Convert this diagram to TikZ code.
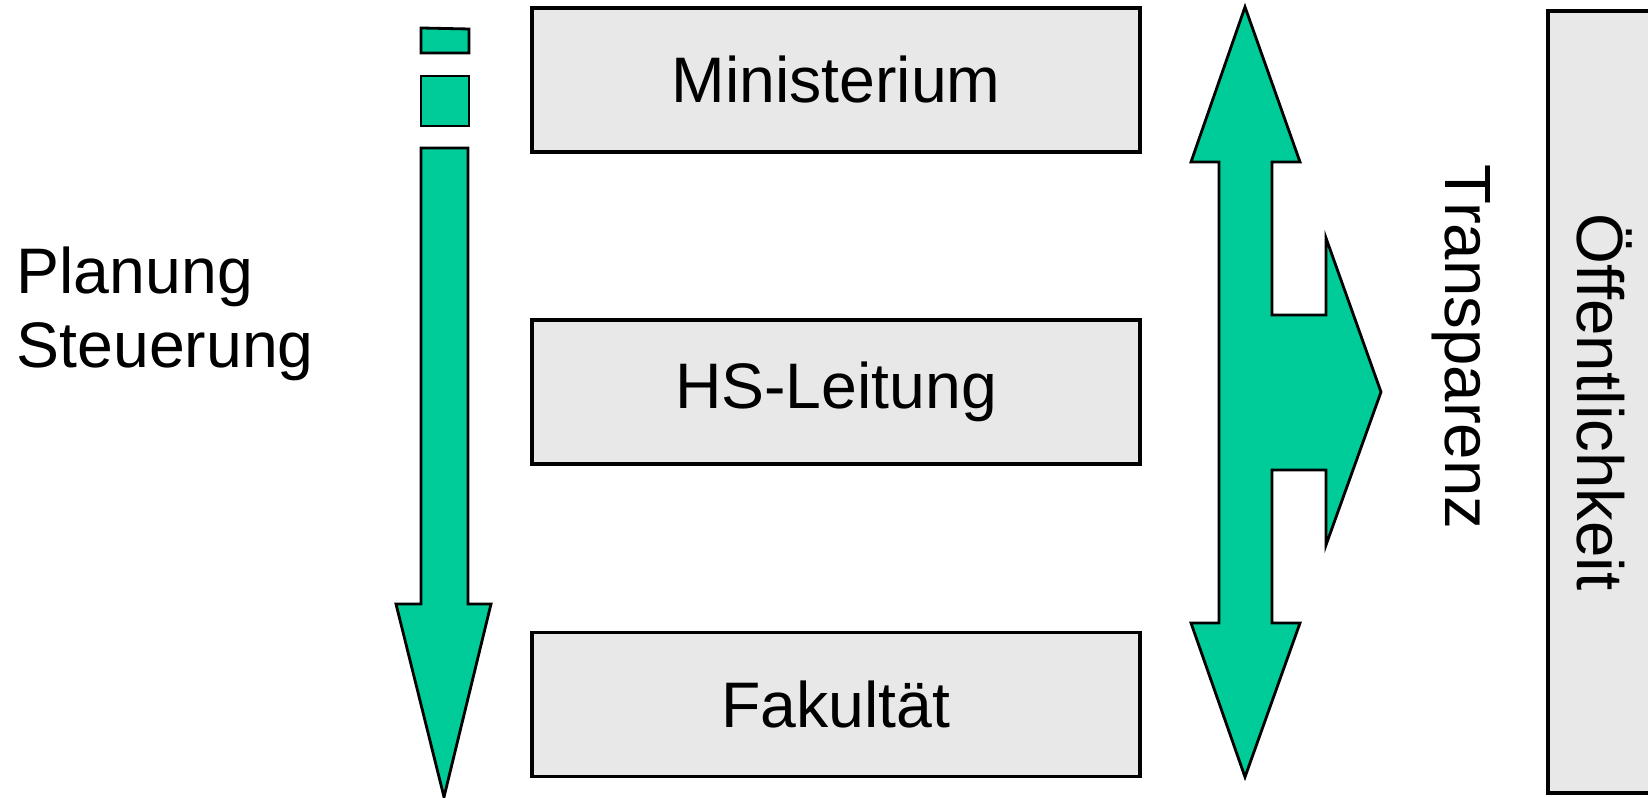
\documentclass[tikz,border=0pt]{standalone}
\usepackage{fontspec}
\setmainfont{Liberation Sans}
\usetikzlibrary{positioning}
\definecolor{arrowgreen}{HTML}{00CC99}
\definecolor{boxgray}{HTML}{E8E8E8}

\begin{document}
\begin{tikzpicture}[x=0.01cm, y=-0.01cm,
		level/.style={draw, line width=1pt, fill=boxgray, minimum width=6.08cm, minimum height=1.44cm, font=\fontsize{18.3}{22}\selectfont},
		sidetext/.style={inner sep=0pt, font=\fontsize{18.3}{22}\selectfont},
		greenarrow/.style={draw, line width=0.8pt, fill=arrowgreen, line join=miter}]
		\useasboundingbox (0,0) rectangle (1648,798);
		
		\node[level] (min) at (836,80) {Ministerium};
		\node[level, below=1.645cm of min] (hsl) {HS-Leitung};
		\node[level, below=1.645cm of hsl] (fak) {Fakult\"at};
		\node[level, rotate=-90, minimum width=7.82cm, minimum height=1.14cm, font=\fontsize{18.6}{22}\selectfont] (oeff) at (1605,402) {\"Offentlichkeit};
		
		\node[sidetext, anchor=base west] (plan) at (16,294) {Planung};
		\node[sidetext, anchor=base west] (steu) at (16,368) {Steuerung};
		\node[sidetext, rotate=-90, font=\fontsize{18.6}{22}\selectfont] (trans) at (1461,347) {Transparenz};
		
		\draw[greenarrow] (421,28) -- (469,29) -- (469,53) -- (421,53) -- cycle;
		\draw[greenarrow] (421,76) rectangle (469,126);
		\draw[greenarrow] (421,148) -- (468,148) -- (468,604) -- (491,604) -- (444,797)
			-- (396,604) -- (421,604) -- cycle;
		
		\draw[greenarrow] (1245,7) -- (1300,162) -- (1272,162) -- (1272,315) -- (1326,315)
			-- (1326,238) -- (1381,392) -- (1326,545) -- (1326,470) -- (1272,470)
			-- (1272,623) -- (1300,623) -- (1245,777) -- (1191,623) -- (1219,623)
			-- (1219,162) -- (1191,162) -- cycle;
		
		\end{tikzpicture}
\end{document}
